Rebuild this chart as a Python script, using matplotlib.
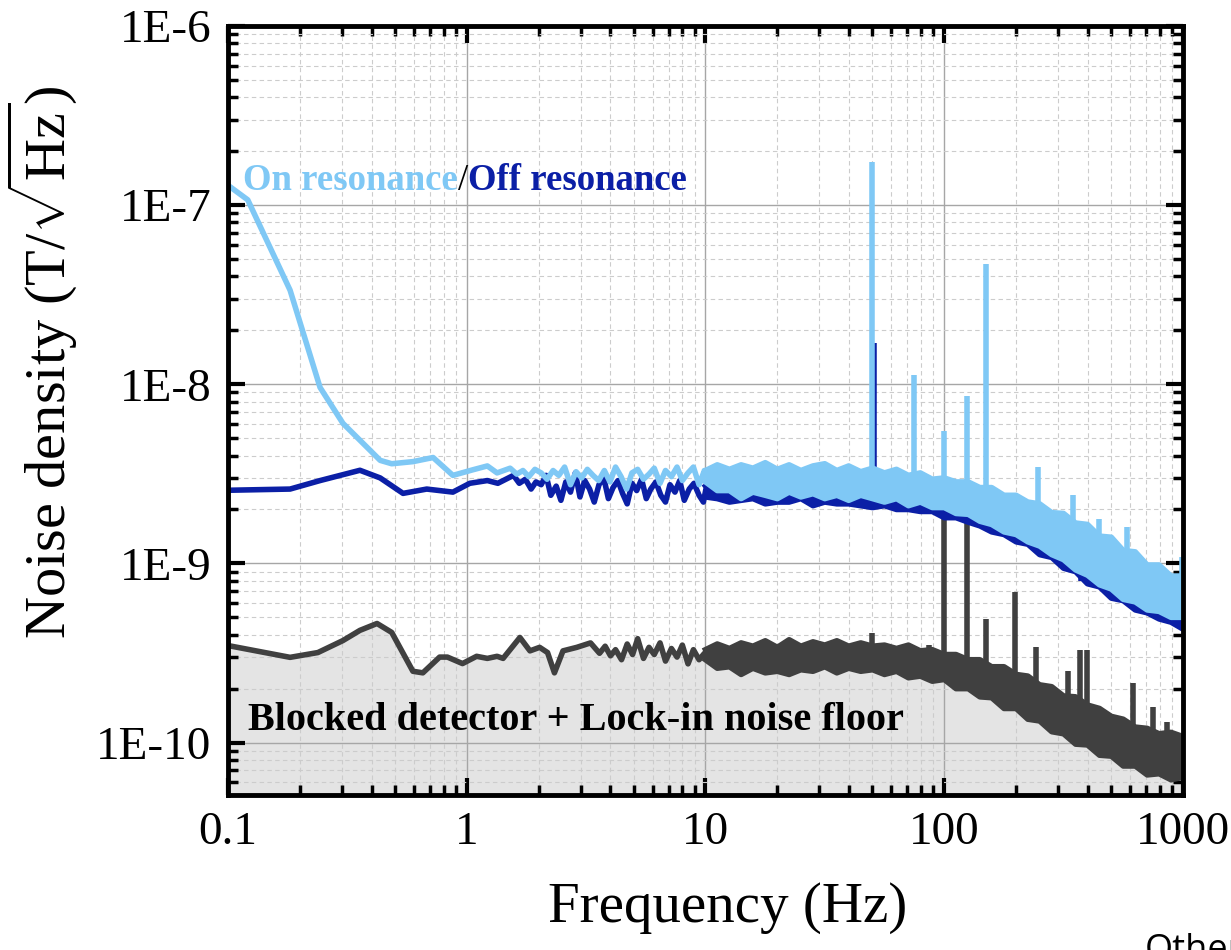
import matplotlib
matplotlib.use('Agg')
import matplotlib.pyplot as plt
import numpy as np
from matplotlib.ticker import LogLocator, NullFormatter

plt.rcParams['font.family'] = ['Liberation Serif', 'DejaVu Serif']
plt.rcParams['mathtext.fontset'] = 'custom'
plt.rcParams['mathtext.rm'] = 'Liberation Serif'

# ---- спектры шума: частоты в Гц, значения в нТл/√Гц (синие) и 0.1 нТл/√Гц (серый) ----
# "On resonance": низкочастотная часть и участок до 10 Гц
on_f = [0.1, 0.121, 0.182, 0.243, 0.303, 0.434, 0.485, 0.596, 0.723, 0.875, 1.06, 1.22, 1.34,
        1.52, 1.62, 1.72, 1.82, 1.93, 2.05, 2.17, 2.3, 2.43, 2.57, 2.72, 2.87, 3.03, 3.2,
        3.38, 3.57, 3.77, 3.98, 4.2, 4.43, 4.67, 4.92, 5.2, 5.5, 5.8, 6.1, 6.45, 6.8,
        7.2, 7.6, 8.0, 8.45, 8.9, 9.4, 9.9]
on_v = [129, 107, 33.5, 9.6, 6.05, 3.76, 3.6, 3.7, 3.9, 3.1, 3.33, 3.5, 3.2,
        3.4, 3.15, 3.3, 3.05, 3.35, 3.2, 2.95, 3.3, 3.1, 3.45, 2.75, 3.25, 3.0, 3.35,
        3.1, 2.9, 3.3, 2.85, 3.45, 3.05, 2.6, 3.2, 3.35, 2.95, 3.15, 3.4, 2.8, 3.3,
        3.05, 3.45, 2.9, 3.2, 3.45, 2.75, 3.3]

# "Off resonance"
off_f = [0.1, 0.182, 0.243, 0.357, 0.434, 0.541, 0.68, 0.875, 1.03, 1.22, 1.35,
         1.57, 1.66, 1.76, 1.86, 1.95, 2.05, 2.15, 2.25, 2.37, 2.48, 2.6, 2.72, 2.85,
         2.98, 3.12, 3.27, 3.42, 3.58, 3.75, 3.92, 4.1, 4.3, 4.5, 4.7, 4.92, 5.15, 5.4,
         5.65, 5.9, 6.2, 6.5, 6.8, 7.1, 7.45, 7.8, 8.15, 8.55, 8.95, 9.4, 9.8]
off_v = [2.56, 2.6, 2.9, 3.31, 3.0, 2.46, 2.6, 2.5, 2.8, 2.9, 2.8,
         3.1, 2.8, 2.95, 2.6, 2.85, 2.75, 3.1, 2.4, 2.7, 2.25, 2.85, 2.5, 3.2,
         2.35, 2.9, 2.6, 2.2, 2.75, 3.0, 2.3, 2.65, 2.9, 2.45, 2.15, 2.8, 2.55, 2.95,
         2.3, 2.6, 2.85, 2.4, 2.2, 2.75, 2.5, 2.9, 2.25, 2.6, 2.8, 2.4, 2.2]

# "Blocked detector + Lock-in noise floor"
blk_f = [0.1, 0.182, 0.238, 0.303, 0.357, 0.421, 0.485, 0.595, 0.655, 0.77, 0.83, 0.96,
         1.1, 1.22, 1.34, 1.42, 1.67, 1.84, 2.02, 2.18, 2.33, 2.53, 2.89, 3.3, 3.6,
         3.8, 4.0, 4.2, 4.45, 4.7, 4.95, 5.2, 5.5, 5.8, 6.1, 6.45, 6.8, 7.2, 7.6, 8.0,
         8.45, 8.9, 9.4, 9.9]
blk_v = [3.48, 2.99, 3.18, 3.71, 4.23, 4.62, 4.12, 2.5, 2.45, 3.0, 3.0, 2.76,
         3.03, 2.95, 3.03, 2.95, 3.86, 3.25, 3.4, 3.18, 2.45, 3.25, 3.4, 3.6, 3.15,
         3.45, 3.05, 3.3, 2.9, 3.55, 3.1, 3.8, 2.95, 3.4, 3.1, 3.6, 2.85, 3.35, 3.0, 3.5,
         2.75, 3.3, 2.9, 3.15]

# выше 10 Гц спектры идут плотной полосой: верхняя и нижняя огибающие
band_f = [10, 11.2, 12.6, 14.1, 15.8, 17.8, 20, 22.4, 25.1, 28.2, 31.6, 35.5, 39.8, 44.7,
          50.1, 56.2, 63.1, 70.8, 79.4, 89.1, 100, 112, 126, 141, 158, 178, 200, 224, 251,
          282, 316, 355, 398, 447, 501, 562, 631, 708, 794, 891, 1000]
on_hi = [3.3, 3.55, 3.35, 3.55, 3.4, 3.65, 3.35, 3.55, 3.3, 3.5, 3.6, 3.3, 3.5, 3.25,
         3.4, 3.2, 3.35, 3.1, 3.2, 2.95, 3.0, 2.85, 2.85, 2.65, 2.65, 2.4, 2.4, 2.2, 2.15,
         1.92, 1.9, 1.68, 1.65, 1.42, 1.4, 1.18, 1.16, 0.98, 0.98, 0.85, 0.85]
on_lo = [2.85, 2.55, 2.55, 2.3, 2.5, 2.4, 2.3, 2.5, 2.35, 2.45, 2.3, 2.4, 2.25, 2.4,
         2.3, 2.2, 2.3, 2.1, 2.2, 2.05, 2.05, 1.9, 1.88, 1.72, 1.65, 1.5, 1.45, 1.32, 1.25,
         1.12, 1.05, 0.92, 0.86, 0.76, 0.72, 0.63, 0.61, 0.55, 0.54, 0.5, 0.5]
off_hi = [2.7, 3.0, 3.0, 3.15, 3.05, 3.1, 3.0, 3.1, 3.0, 3.05, 3.1, 2.95, 3.0, 2.9,
          2.9, 2.85, 2.8, 2.75, 2.7, 2.6, 2.55, 2.45, 2.35, 2.25, 2.1, 2.0, 1.9, 1.8, 1.7,
          1.55, 1.45, 1.35, 1.25, 1.12, 1.02, 0.94, 0.86, 0.8, 0.75, 0.7, 0.65]
off_lo = [2.35, 2.3, 2.2, 2.25, 2.3, 2.15, 2.2, 2.2, 2.3, 2.1, 2.2, 2.15, 2.15, 2.1,
          2.05, 2.1, 2.0, 2.0, 1.95, 1.95, 1.8, 1.8, 1.7, 1.62, 1.5, 1.45, 1.32, 1.28,
          1.12, 1.08, 0.94, 0.9, 0.77, 0.74, 0.64, 0.62, 0.55, 0.53, 0.49, 0.47, 0.43]
blk_hi = [3.3, 3.55, 3.35, 3.6, 3.45, 3.7, 3.4, 3.75, 3.45, 3.65, 3.5, 3.7, 3.45, 3.6,
          3.45, 3.5, 3.35, 3.5, 3.25, 3.3, 3.1, 3.1, 2.9, 2.9, 2.65, 2.65, 2.4, 2.35, 2.1,
          2.05, 1.82, 1.8, 1.62, 1.55, 1.4, 1.35, 1.22, 1.2, 1.12, 1.14, 1.08]
blk_lo = [2.9, 2.6, 2.65, 2.4, 2.6, 2.45, 2.5, 2.4, 2.55, 2.5, 2.65, 2.45, 2.6, 2.5,
          2.55, 2.4, 2.5, 2.3, 2.35, 2.2, 2.25, 2.0, 2.0, 1.8, 1.78, 1.55, 1.55, 1.35,
          1.32, 1.15, 1.12, 0.98, 0.97, 0.85, 0.84, 0.74, 0.74, 0.66, 0.67, 0.62, 0.64]

# узкие пики (частота, основание, вершина)
on_spk_f = [50, 75, 100, 125, 150, 247, 346, 445, 583, 990]
on_spk_lo = [2.4, 2.2, 2.0, 1.85, 1.7, 1.25, 0.95, 0.78, 0.62, 0.5]
on_spk_hi = [174, 11.2, 5.5, 8.6, 47, 3.45, 2.4, 1.76, 1.6, 1.08]
off_spk_f = [50.8, 375]
off_spk_lo = [2.0, 0.8]
off_spk_hi = [17, 1.65]
blk_spk_f = [50, 86, 100, 125, 150, 198, 243, 330, 370, 396, 620, 750, 860]
blk_spk_lo = [2.6, 2.2, 2.2, 2.0, 1.8, 1.5, 1.3, 1.1, 1.0, 1.0, 0.75, 0.68, 0.65]
blk_spk_hi = [4.1, 3.5, 19.3, 17.4, 4.9, 6.9, 3.4, 2.5, 3.3, 3.3, 2.15, 1.57, 1.3]

light = '#7fc8f5'
dark = '#0b1fa6'
gray = '#404040'
nT = 1e-9
sub = 1e-10

fig = plt.figure(figsize=(12.31, 9.5), dpi=100)
ax = fig.add_axes([0.1852, 0.1632, 0.7758, 0.8095])
ax.set_xscale('log')
ax.set_yscale('log')

# серая подложка под шумом детектора
fill_x = blk_f + band_f
fill_y = np.array(blk_v + blk_lo) * sub
ax.fill_between(fill_x, fill_y, 1e-12, color='#e4e4e4', lw=0, zorder=0.2)

lw = 4.0


def draw_trace(f, v, lo, hi, sf, slo, shi, scale, color, z):
    """Кривая до 10 Гц, шумовая полоса выше и узкие пики."""
    ax.plot(f + band_f[:1], np.array(v + [0.5 * (lo[0] + hi[0])]) * scale,
            color=color, lw=lw, zorder=z, solid_joinstyle='round')
    ax.fill_between(band_f, np.array(lo) * scale, np.array(hi) * scale,
                    color=color, lw=0, zorder=z)
    ax.plot(band_f, np.array(hi) * scale, color=color, lw=lw, zorder=z)
    ax.plot(band_f, np.array(lo) * scale, color=color, lw=lw, zorder=z)
    ax.vlines(sf, np.array(slo) * scale, np.array(shi) * scale,
              color=color, lw=lw, zorder=z)


draw_trace(blk_f, blk_v, blk_lo, blk_hi, blk_spk_f, blk_spk_lo, blk_spk_hi, sub, gray, 2.5)
draw_trace(off_f, off_v, off_lo, off_hi, off_spk_f, off_spk_lo, off_spk_hi, nT, dark, 3)
draw_trace(on_f, on_v, on_lo, on_hi, on_spk_f, on_spk_lo, on_spk_hi, nT, light, 4)

ax.set_xlim(0.1, 1000)
ax.set_ylim(5.1e-11, 1e-6)

# оси и сетка
ax.set_xticks([0.1, 1, 10, 100, 1000], ['0.1', '1', '10', '100', '1000'])
ax.set_yticks([1e-10, 1e-9, 1e-8, 1e-7, 1e-6], ['1E-10', '1E-9', '1E-8', '1E-7', '1E-6'])
ax.xaxis.set_minor_locator(LogLocator(base=10, subs=np.arange(2, 10), numticks=20))
ax.yaxis.set_minor_locator(LogLocator(base=10, subs=np.arange(2, 10), numticks=20))
ax.xaxis.set_minor_formatter(NullFormatter())
ax.yaxis.set_minor_formatter(NullFormatter())
ax.set_axisbelow(True)
ax.grid(which='major', color='#a6a6a6', lw=1.0)
ax.grid(which='minor', color='#cccccc', lw=0.8, ls=(0, (4, 3)))
ax.tick_params(which='both', direction='in', top=True, right=True, labelsize=34, pad=12)
ax.tick_params(which='major', length=12, width=3)
ax.tick_params(which='minor', length=7, width=2.5)
for s in ax.spines.values():
    s.set_linewidth(3.5)
    s.set_zorder(6)

ax.set_xlabel('Frequency (Hz)', fontsize=41)
ax.set_ylabel('Noise density (T/$\\sqrt{\\mathrm{Hz}}$)', fontsize=42)
ax.xaxis.set_label_coords(0.523, -0.113)
ax.yaxis.set_label_coords(-0.156, 0.563)

# подписи кривых
t1 = ax.text(0.1156, 1.21e-7, 'On resonance', color=light, fontsize=26.5,
             fontweight='bold', va='baseline', zorder=7)
t2 = ax.annotate('/', xy=(1, 0), xycoords=t1, va='bottom', ha='left',
                 fontsize=26.5, color='k', zorder=7)
ax.annotate('Off resonance', xy=(1, 0), xycoords=t2, va='bottom', ha='left',
            fontsize=26.5, fontweight='bold', color=dark, zorder=7)
ax.text(0.1213, 1.17e-10, 'Blocked detector + Lock-in noise floor', fontsize=29,
        fontweight='bold', va='baseline', color='k', zorder=7)

fig.text(1145 / 1231, -0.01, 'Other', fontsize=26, family=['Open Sans', 'DejaVu Sans'],
         va='baseline', ha='left')

fig.savefig('out.png', dpi=100)
